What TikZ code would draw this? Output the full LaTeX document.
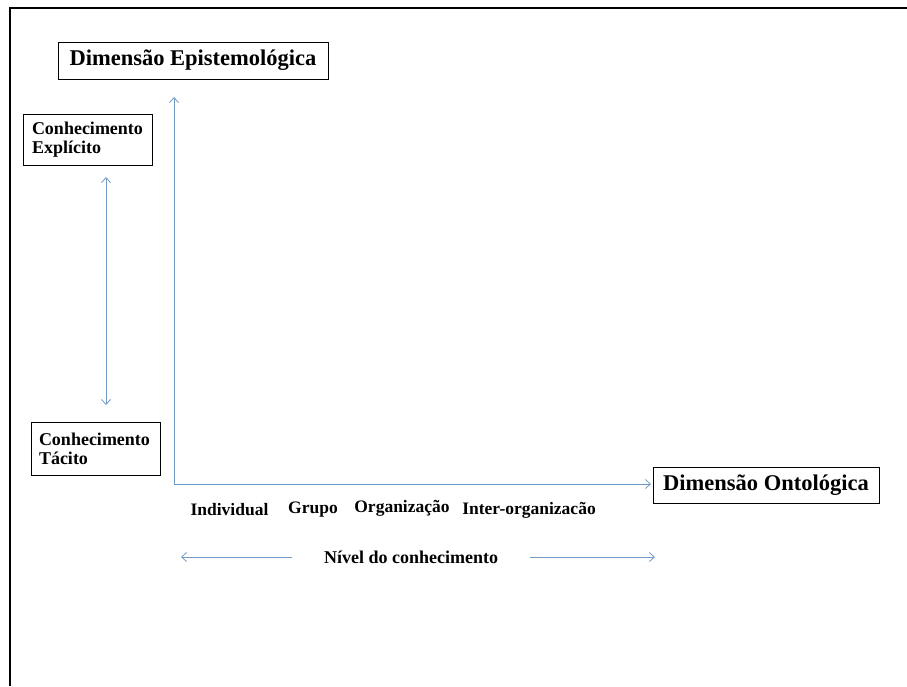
\documentclass[tikz,border=0pt]{standalone}
\usepackage{fontspec}
\setmainfont{Liberation Serif}
\usetikzlibrary{arrows.meta}
\definecolor{axisblue}{HTML}{6F9AC6}
\tikzset{
  titlebox/.style={draw=black, line width=1pt, font=\bfseries\fontsize{22.5}{26}\selectfont, inner xsep=6pt, inner ysep=4pt},
  knowbox/.style={draw=black, line width=1pt, font=\bfseries\fontsize{18}{19}\selectfont, align=left, inner ysep=5pt},
  levellabel/.style={font=\bfseries\fontsize{17.5}{20}\selectfont},
  barb/.tip={Straight Barb[length=5pt,width=9pt]},
  bluearrow/.style={draw=axisblue, line width=0.8pt, -barb},
  frameline/.style={draw=black, line width=2pt}
}
\begin{document}
\begin{tikzpicture}[x=1pt,y=-1pt]
\useasboundingbox (0,0) rectangle (907,686);
% frame
\coordinate (f1) at (907,8);
\coordinate (f2) at (10,8);
\coordinate (f3) at (10,686);
\draw[frameline] (f1) -- (f2) -- (f3);
% boxes
\node[titlebox, minimum width=270pt, minimum height=37pt] (epi) at (193,60.5) {Dimensão Epistemológica};
\node[titlebox, minimum width=226pt, minimum height=36pt] (onto) at (766,485) {Dimensão Ontológica};
\node[knowbox, minimum width=129pt, minimum height=51pt, text width=111pt, inner xsep=9pt] (expl) at (87.5,139.5) {Conhecimento\\Explícito};
\node[knowbox, minimum width=129pt, minimum height=53pt, text width=113pt, inner xsep=8pt] (tac) at (95.5,448.5) {Conhecimento\\Tácito};
% axes
\coordinate (origin) at (174,484);
\coordinate (ytip) at (174,97);
\coordinate (xtip) at (651,484);
\draw[bluearrow] (origin) -- (ytip);
\draw[bluearrow] (origin) -- (xtip);
% double arrow
\coordinate (da1) at (106,177);
\coordinate (da2) at (106,405);
\draw[bluearrow, barb-barb] (da1) -- (da2);
% level labels
\node[levellabel] (ind) at (229.5,510) {Individual};
\node[levellabel] (gru) at (313,510) {Grupo};
\node[levellabel] (org) at (402,508) {Organização};
\node[levellabel] (inter) at (529,510) {Inter-organizacão};
% knowledge level
\node[font=\bfseries\fontsize{18}{20}\selectfont] (nivel) at (411,557) {Nível do conhecimento};
\coordinate (la) at (292,557);
\coordinate (lb) at (181,557);
\coordinate (ra) at (530,557);
\coordinate (rb) at (655,557);
\draw[bluearrow] (la) -- (lb);
\draw[bluearrow] (ra) -- (rb);
\end{tikzpicture}
\end{document}
